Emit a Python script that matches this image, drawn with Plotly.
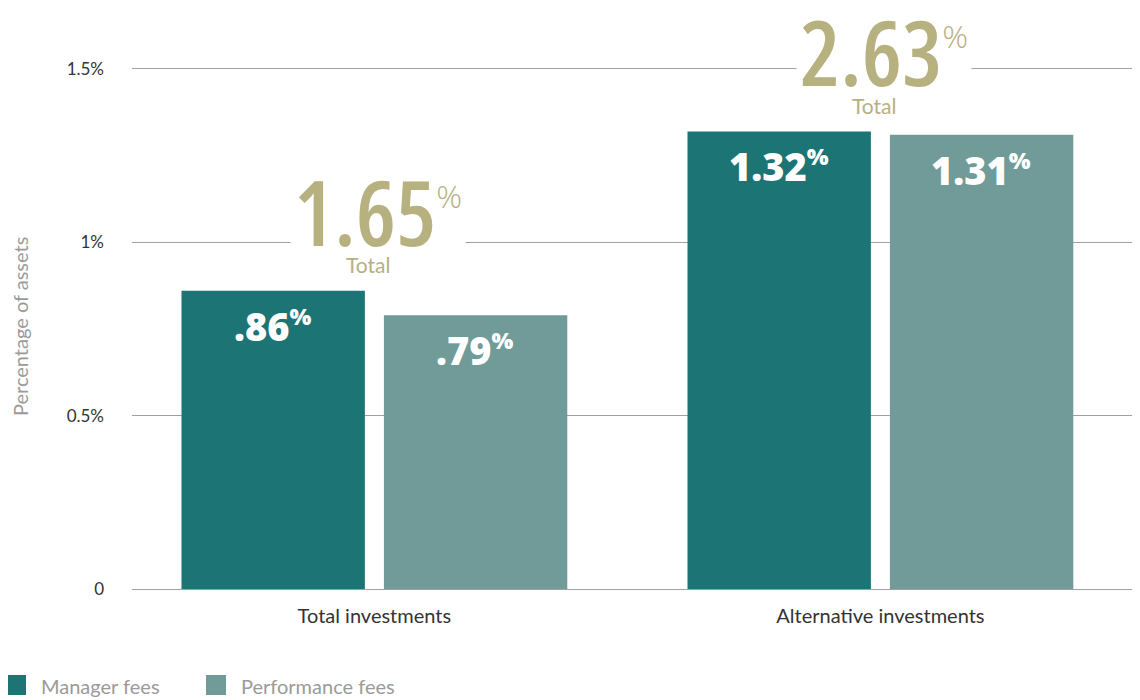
import plotly.graph_objects as go

categories = ["Total investments", "Alternative investments"]
manager_fees = [0.86, 1.32]
performance_fees = [0.79, 1.31]
manager_labels = [".86", "1.32"]
performance_labels = [".79", "1.31"]
totals = ["1.65", "2.63"]
tick_vals = [0, 0.5, 1, 1.5]
tick_text = ["0", "0.5%", "1%", "1.5%"]
series_names = ["Manager fees", "Performance fees"]

TEAL = "#1c7574"
SAGE = "#709b99"
TAN = "#b7b07f"
GRID = "#a0a0a0"

# page has an 8px body margin, so the figure is drawn 8px in from the corner
OFF = 8
L, R, T, B = 124, 0, 12, 111
W, H = 1132, 692
PW, PH = W - L - R, H - T - B


def px_x(p):
    return (p - OFF - L) / PW


def px_y(p):
    return (H - B - (p - OFF)) / PH


fig = go.Figure()
fig.add_trace(go.Bar(x=categories, y=manager_fees, name=series_names[0],
                     marker=dict(color=TEAL, line=dict(width=0)), hoverinfo="skip"))
fig.add_trace(go.Bar(x=categories, y=performance_fees, name=series_names[1],
                     marker=dict(color=SAGE, line=dict(width=0)), hoverinfo="skip"))

# white value labels inside bars
for i, cat in enumerate(categories):
    for val, lab, shift in [(manager_fees[i], manager_labels[i], -101),
                            (performance_fees[i], performance_labels[i], 101)]:
        fig.add_annotation(
            x=cat, y=val, xref="x", yref="y", xshift=shift, yshift=-35,
            text=f"{lab}<sup><span style='font-size:23px'>%</span></sup>",
            showarrow=False, yanchor="middle",
            font=dict(family="Open Sans", size=38, color="white", weight=800),
        )

# big totals above each group
for i, cat in enumerate(categories):
    top = max(manager_fees[i], performance_fees[i])
    fig.add_annotation(
        x=cat, y=top, xref="x", yref="y", yshift=15, xshift=4,
        text=(f"<span style='font-stretch:condensed'>{totals[i]}</span>"
              f"<sup><span style='font-size:32px;font-weight:300'>%</span></sup>"),
        showarrow=False, yanchor="bottom", bgcolor="white", borderpad=3,
        font=dict(family="Open Sans", size=90, color=TAN, weight=600),
    )
    fig.add_annotation(
        x=cat, y=top, xref="x", yref="y", yshift=26, xshift=-6,
        text="Total", showarrow=False, yanchor="middle",
        font=dict(family="Lato", size=21, color=TAN),
    )

fig.add_annotation(
    x=px_x(20), y=px_y(327), xref="paper", yref="paper", text="Percentage of assets",
    xanchor="center", yanchor="middle",
    textangle=-90, showarrow=False, font=dict(family="Lato", size=20, color="#9a9a9a"),
)

# legend drawn as squares + text
for j, (name, col) in enumerate(zip(series_names, [TEAL, SAGE])):
    x0 = 6 + j * 200
    fig.add_shape(type="rect", xref="paper", yref="paper",
                  x0=px_x(x0), x1=px_x(x0 + 20), y0=px_y(695), y1=px_y(675),
                  fillcolor=col, line=dict(width=0))
    fig.add_annotation(x=px_x(x0 + 33), y=px_y(686), xref="paper", yref="paper",
                       xanchor="left", yanchor="middle", showarrow=False, text=name,
                       font=dict(family="Lato", size=20, color="#9a9a9a"))

fig.update_layout(
    width=W, height=H,
    margin=dict(l=L, r=R, t=T, b=B),
    paper_bgcolor="white", plot_bgcolor="white",
    barmode="group", bargap=0.2, bargroupgap=0.094,
    font=dict(family="Lato", color="#333333"),
    showlegend=False,
    xaxis=dict(range=[-0.479, 1.513], showgrid=False, showline=False, ticks="",
               automargin=False, tickfont=dict(size=20, color="#333333"),
               ticklabelstandoff=13),
    yaxis=dict(range=[0, 1.6413], tickvals=tick_vals, ticktext=tick_text,
               showgrid=True, gridcolor=GRID, gridwidth=1, zeroline=True,
               zerolinecolor=GRID, zerolinewidth=1, showline=False, ticks="",
               automargin=False, tickfont=dict(size=17, color="#333333"),
               ticklabelstandoff=27),
)
fig.write_html("out.html")
